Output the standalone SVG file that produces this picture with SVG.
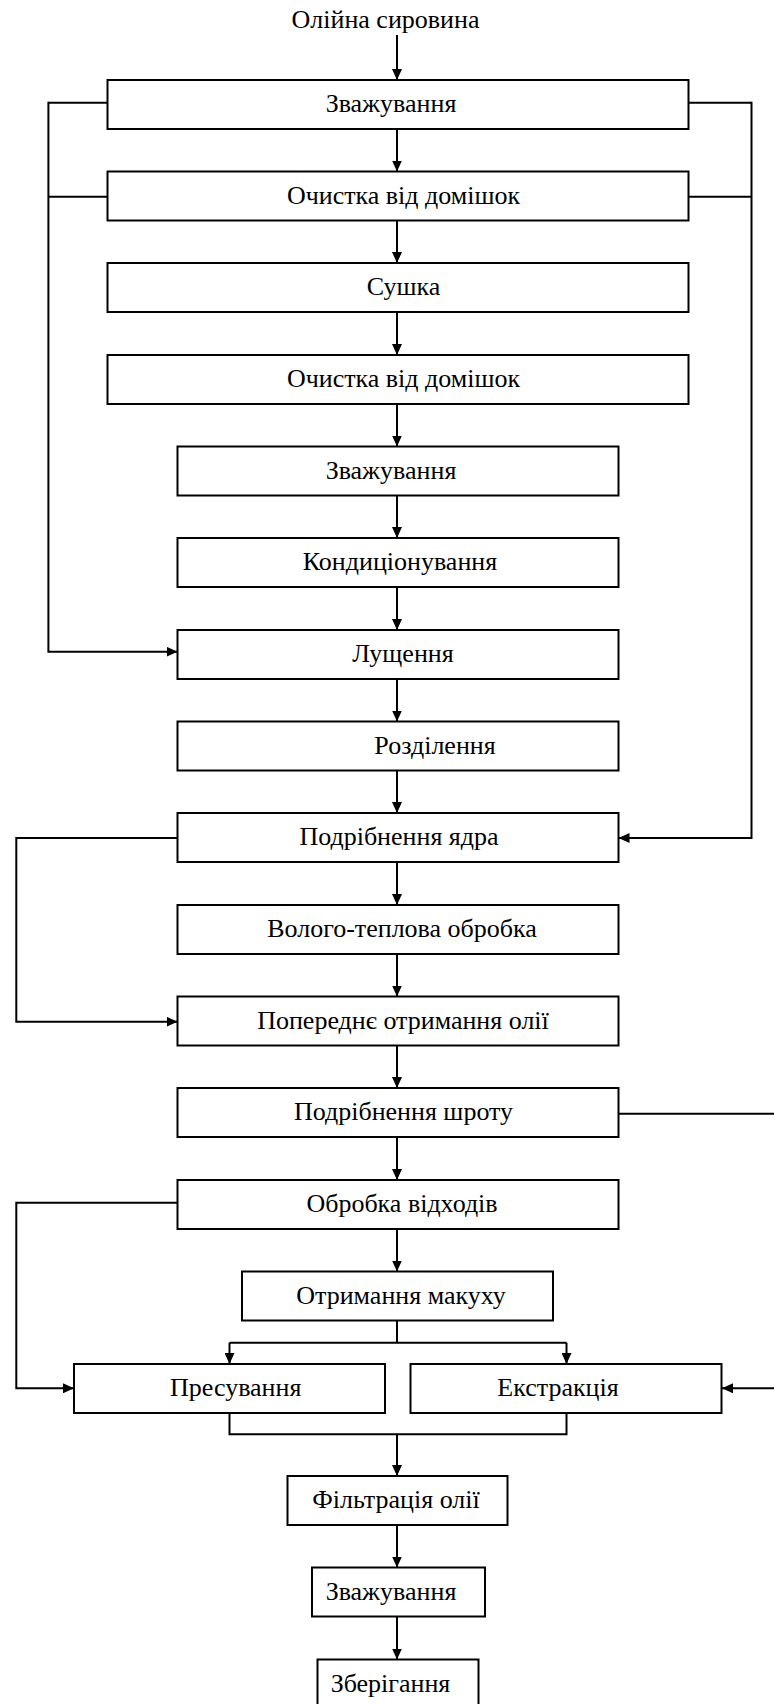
<svg xmlns="http://www.w3.org/2000/svg" width="774" height="1704" viewBox="0 0 774 1704">
<style>
.b{fill:#fff;stroke:#000;stroke-width:2}
.t{font-family:'Liberation Serif','Times New Roman','DejaVu Serif',serif;font-size:26px;fill:#000;text-anchor:middle}
.c{fill:none;stroke:#000;stroke-width:2}
</style>
<defs>
<marker id="a" markerUnits="userSpaceOnUse" markerWidth="12" markerHeight="10" refX="11" refY="5" orient="auto">
<path d="M0,0 L11,5 L0,10 Z" fill="#000"/>
</marker>
</defs>
<rect width="774" height="1704" fill="#fff"/>
<g font-family="Liberation Serif, serif">
<text class="t" x="385.5" y="28">Олійна сировина</text>
</g>
<g id="connectors">
<path class="c" marker-end="url(#a)" d="M397,35 V80"/>
<path class="c" marker-end="url(#a)" d="M397,129 V171.5"/>
<path class="c" marker-end="url(#a)" d="M397,220.5 V263"/>
<path class="c" marker-end="url(#a)" d="M397,312 V355"/>
<path class="c" marker-end="url(#a)" d="M397,404 V446.5"/>
<path class="c" marker-end="url(#a)" d="M397,495.5 V538"/>
<path class="c" marker-end="url(#a)" d="M397,587 V630"/>
<path class="c" marker-end="url(#a)" d="M397,679 V721.5"/>
<path class="c" marker-end="url(#a)" d="M397,770.5 V813"/>
<path class="c" marker-end="url(#a)" d="M397,862 V905"/>
<path class="c" marker-end="url(#a)" d="M397,954 V996.5"/>
<path class="c" marker-end="url(#a)" d="M397,1045.5 V1088"/>
<path class="c" marker-end="url(#a)" d="M397,1137 V1180"/>
<path class="c" marker-end="url(#a)" d="M397,1229 V1271.5"/>
<path class="c" d="M397,1320.5 V1342.7 M229.5,1342.7 H566.5"/>
<path class="c" marker-end="url(#a)" d="M229.5,1342.7 V1364"/>
<path class="c" marker-end="url(#a)" d="M566.5,1342.7 V1364"/>
<path class="c" d="M229.5,1413 V1434.3 H566.5 V1413"/>
<path class="c" marker-end="url(#a)" d="M397,1434.3 V1476"/>
<path class="c" marker-end="url(#a)" d="M397,1525 V1567.5"/>
<path class="c" marker-end="url(#a)" d="M397,1616.5 V1659.5"/>
<path class="c" d="M107.5,102.7 H48.4 M107.5,196.7 H48.4"/>
<path class="c" marker-end="url(#a)" d="M48.4,101.7 V651.7 H177.5"/>
<path class="c" d="M688.5,102.7 H751.5 M688.5,196.7 H751.5"/>
<path class="c" marker-end="url(#a)" d="M751.5,101.7 V838 H618.5"/>
<path class="c" marker-end="url(#a)" d="M177.5,838 H16.3 V1021.7 H177.5"/>
<path class="c" d="M618.5,1113.7 H774"/>
<path class="c" marker-end="url(#a)" d="M177.5,1202.7 H16.3 V1388.3 H74"/>
<path class="c" marker-end="url(#a)" d="M774,1388.3 H722"/>
</g>
<g id="n1"><rect class="b" x="107.5" y="80" width="581" height="49"/><text class="t" x="391" y="112">Зважування</text></g>
<g id="n2"><rect class="b" x="107.5" y="171.5" width="581" height="49"/><text class="t" x="403.5" y="203.5">Очистка від домішок</text></g>
<g id="n3"><rect class="b" x="107.5" y="263" width="581" height="49"/><text class="t" x="403.5" y="295">Сушка</text></g>
<g id="n4"><rect class="b" x="107.5" y="355" width="581" height="49"/><text class="t" x="403.5" y="387">Очистка від домішок</text></g>
<g id="n5"><rect class="b" x="177.5" y="446.5" width="441" height="49"/><text class="t" x="391" y="478.5">Зважування</text></g>
<g id="n6"><rect class="b" x="177.5" y="538" width="441" height="49"/><text class="t" x="400" y="570">Кондиціонування</text></g>
<g id="n7"><rect class="b" x="177.5" y="630" width="441" height="49"/><text class="t" x="403" y="662">Лущення</text></g>
<g id="n8"><rect class="b" x="177.5" y="721.5" width="441" height="49"/><text class="t" x="435" y="753.5">Розділення</text></g>
<g id="n9"><rect class="b" x="177.5" y="813" width="441" height="49"/><text class="t" x="399" y="845">Подрібнення ядра</text></g>
<g id="n10"><rect class="b" x="177.5" y="905" width="441" height="49"/><text class="t" x="402" y="937">Волого-теплова обробка</text></g>
<g id="n11"><rect class="b" x="177.5" y="996.5" width="441" height="49"/><text class="t" x="403" y="1028.5">Попереднє отримання олії</text></g>
<g id="n12"><rect class="b" x="177.5" y="1088" width="441" height="49"/><text class="t" x="403.5" y="1120">Подрібнення шроту</text></g>
<g id="n13"><rect class="b" x="177.5" y="1180" width="441" height="49"/><text class="t" x="402" y="1212">Обробка відходів</text></g>
<g id="n14"><rect class="b" x="242" y="1271.5" width="311" height="49"/><text class="t" x="401" y="1303.5">Отримання макуху</text></g>
<g id="n15"><rect class="b" x="74" y="1364" width="311" height="49"/><text class="t" x="235.7" y="1396">Пресування</text></g>
<g id="n16"><rect class="b" x="410.5" y="1364" width="311" height="49"/><text class="t" x="558" y="1396">Екстракція</text></g>
<g id="n17"><rect class="b" x="287.5" y="1476" width="220" height="49"/><text class="t" x="396" y="1508">Фільтрація олії</text></g>
<g id="n18"><rect class="b" x="312" y="1567.5" width="173" height="49"/><text class="t" x="391" y="1599.5">Зважування</text></g>
<g id="n19"><rect class="b" x="317.5" y="1659.5" width="161" height="49"/><text class="t" x="390.5" y="1691.5">Зберігання</text></g>
</svg>
